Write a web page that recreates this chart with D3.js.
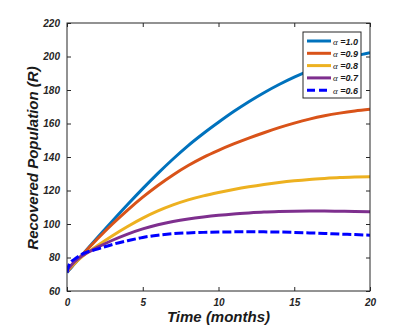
<!DOCTYPE html>
<html>
  <head>
    <meta charset="utf-8" />
    <script src="https://d3js.org/d3.v7.min.js"></script>
    <style>
      body { margin: 0; background: #fff; }
      text { font-family: "Liberation Sans", Arial, sans-serif; font-weight: bold; font-style: italic; }
    </style>
  </head>
  <body>
    <svg id="chart"></svg>
    <script>
      // time points (months)
      var months = [0, 0.15, 0.5, 1, 2, 3, 4, 5, 6, 7, 8, 9, 10, 11, 12, 13, 14, 15, 16, 17, 18, 19, 20];

      // recovered population for each alpha
      var alpha10 = [71, 72.6, 76.2, 81.5, 91.8, 101.8, 111.6, 121.1, 130.2, 138.8, 146.8, 154, 160.7, 167.1, 173, 178.4, 183.3, 187.7, 191.6, 195, 197.9, 200.3, 202.3];
      var alpha09 = [71.5, 73, 76.5, 81.5, 91, 100, 108.3, 116, 123, 129.3, 134.9, 139.8, 144, 147.8, 151.3, 154.5, 157.5, 160.2, 162.6, 164.6, 166.2, 167.5, 168.5];
      var alpha08 = [72, 73.4, 76.5, 80.5, 87, 93, 98.5, 103.5, 107.8, 111.4, 114.4, 116.8, 118.8, 120.6, 122.2, 123.6, 124.8, 125.8, 126.6, 127.2, 127.7, 128, 128.2];
      var alpha07 = [72.5, 74, 77.5, 81, 86, 90.3, 94, 97.1, 99.6, 101.5, 103, 104.2, 105.2, 106, 106.6, 107.1, 107.4, 107.6, 107.7, 107.7, 107.6, 107.5, 107.3];
      var alpha06 = [71, 76, 79, 82, 85, 87.8, 90, 92, 93.3, 94.2, 94.7, 95, 95.2, 95.3, 95.3, 95.3, 95.2, 95, 94.7, 94.4, 94, 93.7, 93.3];

      var labels = ["1.0", "0.9", "0.8", "0.7", "0.6"];
      var xTicks = [0, 5, 10, 15, 20];
      var yTicks = [60, 80, 100, 120, 140, 160, 180, 200, 220];

      var series = [
        { label: labels[0], values: alpha10, color: "#0072bd", dash: null },
        { label: labels[1], values: alpha09, color: "#d95319", dash: null },
        { label: labels[2], values: alpha08, color: "#edb120", dash: null },
        { label: labels[3], values: alpha07, color: "#7e2f8e", dash: null },
        { label: labels[4], values: alpha06, color: "#0000ff", dash: "9,3" }
      ];

      var width = 403;
      var height = 333;
      var margin = { top: 23, right: 33, bottom: 42, left: 67 };
      var w = width - margin.left - margin.right;
      var h = height - margin.top - margin.bottom;

      var svg = d3.select("#chart").attr("width", width).attr("height", height);
      var g = svg.append("g").attr("transform", `translate(${margin.left},${margin.top})`);

      var x = d3.scaleLinear().domain([0, 20]).range([0, w]);
      var y = d3.scaleLinear().domain([60, 220]).range([h, 0]);

      // clip so curves stay in the box
      svg.append("clipPath").attr("id", "clip")
        .append("rect").attr("width", w).attr("height", h);

      var line = d3.line()
        .x((d, i) => x(months[i]))
        .y((d) => y(d))
        .curve(d3.curveMonotoneX);

      g.append("g").attr("clip-path", "url(#clip)")
        .selectAll("path")
        .data(series)
        .join("path")
        .attr("fill", "none")
        .attr("stroke", (d) => d.color)
        .attr("stroke-width", 3)
        .attr("stroke-dasharray", (d) => d.dash)
        .attr("d", (d) => line(d.values));

      // axes, ticks inside on all four sides
      function styleAxis(sel) {
        sel.selectAll(".tick line").attr("stroke", "#262626");
        sel.selectAll(".tick text").attr("fill", "#262626").style("font-size", "10px");
      }

      g.append("g").attr("transform", `translate(0,${h})`)
        .call(d3.axisBottom(x).tickValues(xTicks).tickSize(-4).tickPadding(8))
        .call(styleAxis);
      g.append("g")
        .call(d3.axisLeft(y).tickValues(yTicks).tickSize(-4).tickPadding(7))
        .call(styleAxis);
      g.append("g")
        .call(d3.axisTop(x).tickValues(xTicks).tickSize(-4).tickFormat(""))
        .call(styleAxis);
      g.append("g").attr("transform", `translate(${w},0)`)
        .call(d3.axisRight(y).tickValues(yTicks).tickSize(-4).tickFormat(""))
        .call(styleAxis);
      g.selectAll(".domain").remove();
      g.append("rect").attr("width", w).attr("height", h)
        .attr("fill", "none").attr("stroke", "#262626").attr("stroke-width", 1);

      // axis titles
      svg.append("text")
        .attr("x", margin.left + w / 2)
        .attr("y", 322)
        .attr("text-anchor", "middle")
        .style("font-size", "15px")
        .attr("fill", "#1a1a1a")
        .text("Time (months)");

      svg.append("text")
        .attr("transform", `translate(38,${margin.top + h / 2 + 1}) rotate(-90)`)
        .attr("text-anchor", "middle")
        .style("font-size", "15px")
        .attr("fill", "#1a1a1a")
        .text("Recovered Population (R)");

      // legend
      var lg = svg.append("g").attr("transform", "translate(303,32)");
      lg.append("rect").attr("width", 58).attr("height", 66)
        .attr("fill", "#fff").attr("stroke", "#262626").attr("stroke-width", 1);
      var item = lg.selectAll(".item").data(series).join("g")
        .attr("class", "item")
        .attr("transform", (d, i) => `translate(0,${9 + i * 12.3})`);
      item.append("line")
        .attr("x1", 4).attr("x2", 28)
        .attr("stroke", (d) => d.color)
        .attr("stroke-width", 3)
        .attr("stroke-dasharray", (d) => (d.dash ? "8,4" : null));
      var t = item.append("text").attr("x", 30).attr("y", 3.5)
        .style("font-size", "9px").attr("fill", "#1a1a1a");
      t.append("tspan").style("font-family", "'Liberation Serif', serif")
        .style("font-weight", "normal").style("font-style", "italic").text("α");
      t.append("tspan").text((d) => " =" + d.label);
    </script>
  </body>
</html>
